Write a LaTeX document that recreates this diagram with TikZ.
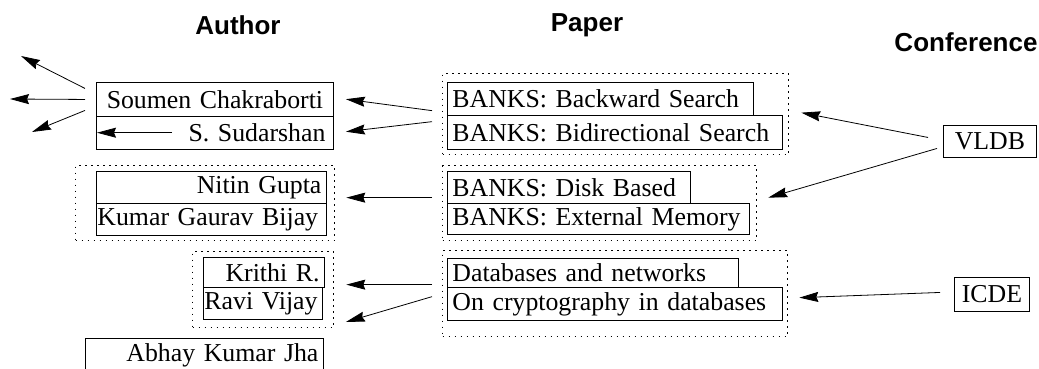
\documentclass[tikz,border=0pt]{standalone}
\usepackage{fontspec}
\setmainfont{Liberation Serif}
\newfontfamily\headfont{Liberation Sans}
\usetikzlibrary{arrows.meta,calc}
\newcommand{\bx}{\fontsize{25.8}{28}\selectfont}
\tikzset{
  box/.style={draw, line width=0.9pt, anchor=north west, inner xsep=5pt, inner ysep=0pt, font=\bx},
  grp/.style={draw, dotted, line width=1.3pt, dash pattern=on 1.3pt off 4.7pt, anchor=north west, inner sep=0pt},
  arr/.style={-{Stealth[length=19pt,width=10pt,inset=2pt]}, line width=0.8pt},
  ttl/.style={font=\headfont\bfseries\fontsize{26}{28}\selectfont}
}
\begin{document}
\begin{tikzpicture}[x=1pt,y=-1pt]
\clip (0,0) rectangle (1039,369);

\node[ttl] (author) at (238,25) {Author};
\node[ttl] (paper)  at (587,25) {Paper};
\node[ttl] (conf)   at (966,42) {Conference};

% authors
\node[box, text width=227pt, minimum height=33.5pt, align=center] (soumen)    at (96,82)    {Soumen Chakraborti};
\node[box, text width=221pt, minimum height=33.5pt, align=right, inner xsep=8pt] (sudarshan) at (96,115.5) {S. Sudarshan};
\node[grp, minimum width=259pt, minimum height=75pt] (authB) at (75,165) {};
\node[box, text width=220pt, minimum height=32pt, align=right] (nitin)  at (96,171) {Nitin Gupta};
\node[box, text width=228pt, minimum height=32pt, align=left, inner xsep=1pt] (bijay) at (96,203) {Kumar Gaurav Bijay};
\node[grp, minimum width=141pt, minimum height=76pt] (authC) at (192,251) {};
\node[box, text width=111pt, minimum height=30pt, align=right] (krithi) at (203,257) {Krithi R.};
\node[box, text width=117pt, minimum height=32pt, align=left, inner xsep=1pt] (ravi) at (203,287) {Ravi Vijay};
\node[box, text width=228pt, minimum height=34pt, align=right] (abhay) at (85,338) {Abhay Kumar Jha};

% papers
\node[grp, minimum width=346pt, minimum height=81pt] (papA) at (442,73) {};
\node[box, text width=296pt, minimum height=33pt, align=left] (backward) at (447,82)  {BANKS: Backward Search};
\node[box, text width=325pt, minimum height=34pt, align=left] (bidir)    at (447,115) {BANKS: Bidirectional Search};
\node[grp, minimum width=314pt, minimum height=75pt] (papB) at (442,165) {};
\node[box, text width=233pt, minimum height=32pt, align=left] (disk)     at (447,171) {BANKS: Disk Based};
\node[box, text width=292pt, minimum height=31pt, align=left] (external) at (447,203) {BANKS: External Memory};
\node[grp, minimum width=345pt, minimum height=86pt] (papC) at (442,250) {};
\node[box, text width=281pt, minimum height=29pt, align=left] (netw)     at (447,258) {Databases and networks};
\node[box, text width=325pt, minimum height=33pt, align=left] (crypto)   at (447,287) {On cryptography in databases};

% conferences
\node[box, text width=83pt, minimum height=32pt, align=center] (vldb) at (943,125) {VLDB};
\node[box, text width=65pt, minimum height=34pt, align=center] (icde) at (954,277) {ICDE};

\coordinate (outA) at (21,56);
\coordinate (outB) at (10,99);
\coordinate (outC) at (32,132);

\draw[arr] ($(soumen.west)+(-11,-10.75)$) -- (outA);
\draw[arr] ($(soumen.west)+(-11,0.25)$)   -- (outB);
\draw[arr] ($(soumen.west)+(-11,11.25)$)  -- (outC);
\draw[arr] ($(sudarshan.west)+(76,0)$) -- ($(sudarshan.west)+(1,0)$);

\draw[arr] ($(papA.west)+(-10,-3.5)$) -- ($(soumen.east)+(12,0)$);
\draw[arr] ($(papA.west)+(-10,7.5)$)  -- ($(sudarshan.east)+(12,-1)$);
\draw[arr] ($(papB.west)+(-10,-5.5)$) -- ($(authB.east)+(11,-5.5)$);
\draw[arr] ($(papC.west)+(-10,-9)$)   -- ($(authC.east)+(12,-5)$);
\draw[arr] ($(papC.west)+(-10,3)$)    -- ($(abhay.north east)+(22,-16)$);

\draw[arr] ($(vldb.west)+(-15,-4)$) -- ($(papA.east)+(12,-1.5)$);
\draw[arr] ($(vldb.west)+(-6,7)$)   -- ($(papB.east)+(11,-5.5)$);
\draw[arr] ($(icde.west)+(-14,-2)$) -- ($(papC.east)+(11,4)$);
\end{tikzpicture}
\end{document}
